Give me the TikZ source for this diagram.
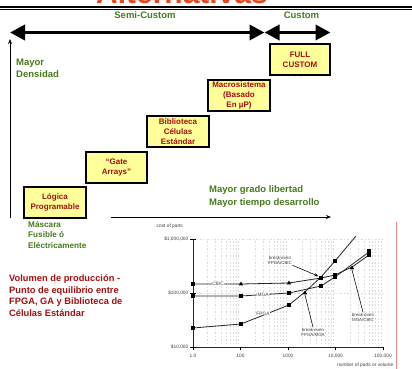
\documentclass[tikz,border=0pt]{standalone}
\usepackage{fontspec}
\setmainfont{Liberation Sans}
\usetikzlibrary{arrows.meta,shapes.geometric}
\definecolor{grn}{HTML}{4A7A1E}
\definecolor{boxred}{HTML}{A50F0F}
\definecolor{ttl}{HTML}{E8461C}
\definecolor{byel}{HTML}{FFFF99}
\definecolor{plotgray}{HTML}{404040}
\definecolor{redline}{HTML}{E88A8A}
\tikzset{
  lvlbox/.style={draw=black, line width=1.2pt, fill=byel, minimum width=61pt, minimum height=31pt,
    inner sep=0pt, align=center, text=boxred, font=\bfseries\fontsize{8}{10.3}\selectfont},
  greentxt/.style={text=grn, font=\bfseries\fontsize{9.5}{12.5}\selectfont, align=left, inner sep=0pt},
  smallgreen/.style={text=grn, font=\bfseries\fontsize{8.2}{10.2}\selectfont, align=left, inner sep=0pt},
  bigarrow/.style={line width=3.6pt, {Triangle[length=15pt,width=15pt]}-{Triangle[length=15pt,width=15pt]}},
  thinarrow/.style={line width=0.8pt, -{Stealth[length=5pt,width=4pt]}},
  tiny/.style={text=plotgray, font=\fontsize{4.8}{5.4}\selectfont, inner sep=0.5pt},
  betxt/.style={text=plotgray, font=\fontsize{4.4}{5}\selectfont, inner sep=0.5pt, align=center},
  curve/.style={line width=0.8pt, draw=black!85},
  sq/.style={fill=black, inner sep=0pt, minimum size=3.6pt},
  tri/.style={fill=black, inner sep=0pt, regular polygon, regular polygon sides=3, minimum size=5pt},
  grid/.style={gray!30, line width=0.35pt, dash pattern=on 1.5pt off 2pt},
}
\begin{document}
\begin{tikzpicture}[x=1pt,y=-1pt]
\clip (0,0) rectangle (412,369);
\fill[white] (0,0) rectangle (412,369);
% title (cropped at top as in reference)
\node[anchor=base, text=ttl, font=\bfseries\fontsize{30}{30}\selectfont, inner sep=0pt] (title) at (182,3.3) {Alternativas};
\draw[line width=1.8pt] (0,6.8) -- (412,6.8);
\draw[line width=0.6pt] (0,9.4) -- (412,9.4);
% headers
\node[greentxt] (semi) at (145,15.5) {Semi-Custom};
\node[greentxt] (cust) at (301.5,15.5) {Custom};
% big arrows
\coordinate (a1) at (10,32.5);
\coordinate (a2) at (264.5,32.5);
\coordinate (a3) at (330.5,32.5);
\draw[bigarrow] (a1) -- (a2);
\draw[bigarrow] (a2) -- (a3);
% axes arrows
\coordinate (v0) at (10,218);
\coordinate (v1) at (10,39);
\draw[thinarrow] (v0) -- (v1);
\coordinate (h0) at (111,217);
\coordinate (h1) at (331,217);
\draw[thinarrow] (h0) -- (h1);
% labels
\node[greentxt, anchor=west] (dens) at (16,68.5) {Mayor\\Densidad};
\node[greentxt, anchor=west] (lib) at (209,196.5) {Mayor grado libertad\\Mayor tiempo desarrollo};
\node[smallgreen, anchor=west] (masc) at (28,235) {Máscara\\Fusible ó\\Eléctricamente};
\node[text=boxred, font=\bfseries\fontsize{9.3}{11.7}\selectfont, align=left, inner sep=0pt, anchor=west] (vol) at (9,295.5)
  {Volumen de producción -\\Punto de equilibrio entre\\FPGA, GA y Biblioteca de\\Células Estándar};
% boxes
\node[lvlbox, minimum width=62pt] (logica) at (55,202.5) {Lógica\\Programable};
\node[lvlbox] (gate) at (116.5,167.5) {“Gate\\Arrays”};
\node[lvlbox, minimum width=62pt] (bib) at (178,131.5) {Biblioteca\\Células\\Estándar};
\node[lvlbox, minimum width=62pt] (macro) at (239,95.5) {Macrosistema\\(Basado\\En µP)};
\node[lvlbox, minimum width=60pt] (full) at (300,59.5) {FULL\\CUSTOM};
% graph grid
\foreach \d in {0,1,2,3} {
  \foreach \m in {2,3,4,5,6,7,8,9} {
    \pgfmathsetmacro{\gx}{193+47.5*(\d+log10(\m))}
    \draw[grid] (\gx,241) -- (\gx,345);
  }
}
\draw[grid] (193,239) -- (383,239);
\draw[grid] (193,293) -- (383,293);
% axes
\coordinate (o) at (193,347);
\coordinate (ytop) at (193,239);
\coordinate (xend) at (383,347);
\draw[line width=0.7pt, black!85] (ytop) -- (o) -- (xend);
\foreach \yy in {239,293,347} \draw[line width=0.5pt] (190,\yy) -- (196,\yy);
\foreach \xx in {193,240.5,288,335.5,383} \draw[line width=0.5pt] (\xx,347) -- (\xx,350);
\node[tiny, anchor=east] (y6) at (189,239) {\$1,000,000};
\node[tiny, anchor=east] (y5) at (189,293) {\$100,000};
\node[tiny, anchor=east] (y4) at (189,347) {\$10,000};
\node[tiny] (x0) at (193,356) {1.0};
\node[tiny] (x1) at (240.5,356) {100};
\node[tiny] (x2) at (288,356) {1000};
\node[tiny] (x3) at (335.5,356) {10,000};
\node[tiny] (x4) at (383,356) {100,000};
\node[tiny, anchor=east] (xl) at (394,365.5) {number of parts or volume};
\node[tiny, anchor=west] (yl) at (156,226) {cost of parts};
% curves
\draw[curve] (193,328) -- (241,324) -- (289,305) .. controls (305,292) .. (321,277) -- (335,261) -- (356,236);
\draw[curve] (193,284) -- (241,284) -- (289,283) -- (321,278) -- (335,275) -- (352,267) -- (369,255);
\draw[curve] (193,296) -- (241,296) -- (289,293) -- (321,286) -- (335,277) -- (369,252);
\node[tiny, fill=white] (cbic) at (218,283.5) {CBIC};
\node[tiny, fill=white] (mga) at (263,294.5) {MGA};
\node[tiny, fill=white, inner sep=0.2pt] (fpga) at (263,313.5) {FPGA};
% markers
\foreach \p in {(193,328),(241,324),(289,305),(335,261),(193,284),(193,296),(241,296),(289,293),(321,286),(321,278),(335,275),(335,277),(369,255),(369,251)}
  \node[sq] at \p {};
\foreach \p in {(241,284),(289,283),(305,293),(352,268)}
  \node[tri] at \p {};
% break-even annotations
\node[betxt] (be1) at (280,260.5) {break-even\\FPGA/CBIC};
\node[betxt] (be2) at (313,332) {break-even\\FPGA/MGA};
\node[betxt] (be3) at (363,317) {break-even\\MGA/CBIC};
\coordinate (p1) at (318,276);
\coordinate (p2) at (305,295);
\coordinate (p3) at (352,270);
\draw[line width=0.55pt, -{Stealth[length=3.5pt,width=3pt]}] (be1.south east) -- (p1);
\draw[line width=0.55pt] (be2.north) -- (p2);
\draw[line width=0.55pt] (be3.north) -- (p3);
% red line
\coordinate (r0) at (396,222);
\coordinate (r1) at (396,369);
\draw[redline, line width=1pt] (r0) -- (r1);
\end{tikzpicture}
\end{document}
